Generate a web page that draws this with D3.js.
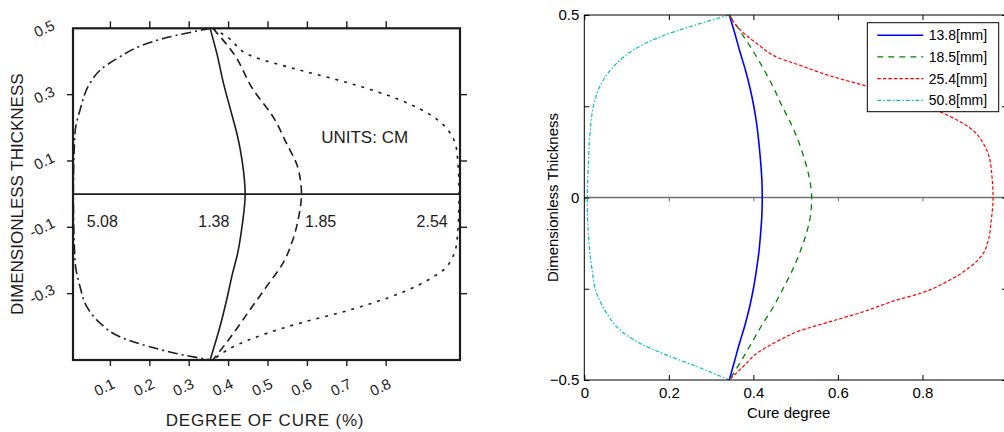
<!DOCTYPE html>
<html>
<head>
<meta charset="utf-8">
<script src="https://cdn.jsdelivr.net/npm/d3@7"></script>
<style>
  body { margin: 0; background: #fff; }
  svg { display: block; }
  text { font-family: Arial, "Liberation Sans", Helvetica, sans-serif; }
</style>
</head>
<body>
<div id="chart"></div>
<script>
// ---- data: left (scanned) figure, [cure, thickness] ----
var scan138 = [[0.353,0.5],[0.370,0.425],[0.387,0.334],[0.405,0.254],[0.423,0.173],[0.434,0.103],[0.442,0],
  [0.434,-0.098],[0.423,-0.178],[0.410,-0.239],[0.395,-0.319],[0.378,-0.40],[0.353,-0.5]];
var scan185 = [[0.36,0.5],[0.412,0.425],[0.463,0.314],[0.513,0.233],[0.547,0.153],[0.575,0.083],[0.585,0],
  [0.578,-0.068],[0.563,-0.138],[0.538,-0.208],[0.496,-0.279],[0.454,-0.349],[0.412,-0.42],[0.36,-0.5]];
var scan254 = [[0.36,0.5],[0.395,0.475],[0.463,0.414],[0.581,0.374],[0.708,0.334],[0.835,0.284],[0.92,0.233],
  [0.963,0.183],[0.98,0.123],[0.985,0],[0.98,-0.138],[0.954,-0.219],[0.92,-0.249],[0.835,-0.299],
  [0.708,-0.349],[0.581,-0.389],[0.496,-0.42],[0.412,-0.46],[0.36,-0.5]];
var scan508 = [[0.355,0.5],[0.243,0.472],[0.175,0.446],[0.124,0.414],[0.074,0.374],[0.048,0.334],[0.023,0.254],
  [0.01,0.183],[0.006,0],[0.01,-0.199],[0.023,-0.279],[0.040,-0.339],[0.074,-0.389],[0.124,-0.43],
  [0.2,-0.46],[0.285,-0.485],[0.355,-0.5]];
var scanLabels = ["5.08", "1.38", "1.85", "2.54"];
var scanLabelCure = [0.04, 0.323, 0.594, 0.877];
var scanXTicks = [0.1, 0.2, 0.3, 0.4, 0.5, 0.6, 0.7, 0.8];
var scanYTicks = [0.5, 0.3, 0.1, -0.1, -0.3];

// ---- data: right (MATLAB) figure ----
var mm138 = [[0.343,0.5],[0.356,0.45],[0.368,0.4],[0.381,0.35],[0.392,0.3],[0.401,0.25],[0.408,0.2],[0.413,0.15],
  [0.417,0.1],[0.420,0.05],[0.421,0],[0.420,-0.05],[0.417,-0.1],[0.413,-0.15],[0.407,-0.2],[0.400,-0.25],
  [0.391,-0.3],[0.380,-0.35],[0.367,-0.4],[0.355,-0.45],[0.343,-0.5]];
var mm185 = [[0.343,0.5],[0.372,0.45],[0.400,0.4],[0.425,0.35],[0.448,0.3],[0.468,0.25],[0.490,0.2],[0.508,0.15],
  [0.522,0.1],[0.533,0.05],[0.538,0],[0.535,-0.05],[0.525,-0.1],[0.510,-0.15],[0.492,-0.2],[0.470,-0.25],
  [0.447,-0.3],[0.420,-0.35],[0.395,-0.4],[0.370,-0.45],[0.343,-0.5]];
var mm254 = [[0.343,0.5],[0.362,0.468],[0.408,0.422],[0.463,0.381],[0.503,0.365],[0.582,0.333],[0.662,0.307],
  [0.760,0.272],[0.858,0.226],[0.913,0.19],[0.944,0.148],[0.958,0.11],[0.965,0.05],[0.967,0],[0.963,-0.06],
  [0.955,-0.12],[0.944,-0.153],[0.913,-0.19],[0.865,-0.226],[0.794,-0.263],[0.739,-0.281],[0.660,-0.313],
  [0.582,-0.34],[0.503,-0.368],[0.463,-0.39],[0.408,-0.427],[0.376,-0.463],[0.343,-0.5]];
var mm508 = [[0.343,0.5],[0.25,0.468],[0.179,0.44],[0.116,0.404],[0.077,0.368],[0.045,0.322],[0.025,0.267],
  [0.0135,0.176],[0.0095,0.084],[0.007,0],[0.0095,-0.098],[0.0175,-0.19],[0.029,-0.262],[0.053,-0.317],
  [0.0845,-0.363],[0.132,-0.4],[0.195,-0.432],[0.266,-0.463],[0.343,-0.5]];
var legendNames = ["13.8[mm]", "18.5[mm]", "25.4[mm]", "50.8[mm]"];
var rightXTicks = [0, 0.2, 0.4, 0.6, 0.8, 1];
var rightYTicks = [-0.5, -0.25, 0, 0.25, 0.5];
var rightYLabelled = [-0.5, 0, 0.5];

var svg = d3.select("#chart").append("svg")
  .attr("width", 1004)
  .attr("height", 432);

// ================= left panel =================
var ink = "#1c1c1c";
var xL = d3.scaleLinear().domain([0, 1]).range([71, 465]);
var yL = d3.scaleLinear().domain([-0.5, 0.5]).range([360, 28.3]);
var frameL = { left: 73, right: 460 };

var left = svg.append("g");

left.append("rect")
  .attr("x", frameL.left).attr("y", yL(0.5))
  .attr("width", frameL.right - frameL.left).attr("height", yL(-0.5) - yL(0.5))
  .attr("fill", "none").attr("stroke", ink).attr("stroke-width", 2.2);

left.append("line")
  .attr("x1", frameL.left).attr("x2", frameL.right)
  .attr("y1", yL(0)).attr("y2", yL(0))
  .attr("stroke", ink).attr("stroke-width", 1.6);

// outward ticks
left.selectAll(".ttop").data(scanXTicks).enter().append("line")
  .attr("x1", d => xL(d)).attr("x2", d => xL(d))
  .attr("y1", yL(0.5)).attr("y2", yL(0.5) - 7)
  .attr("stroke", ink).attr("stroke-width", 1.4);
left.selectAll(".tbot").data(scanXTicks).enter().append("line")
  .attr("x1", d => xL(d)).attr("x2", d => xL(d))
  .attr("y1", yL(-0.5)).attr("y2", yL(-0.5) + 6)
  .attr("stroke", ink).attr("stroke-width", 1.4);
left.selectAll(".tleft").data(scanYTicks.slice(1)).enter().append("line")
  .attr("x1", frameL.left).attr("x2", frameL.left - 6)
  .attr("y1", d => yL(d)).attr("y2", d => yL(d))
  .attr("stroke", ink).attr("stroke-width", 1.4);
left.selectAll(".tright").data(scanYTicks.slice(1)).enter().append("line")
  .attr("x1", frameL.right).attr("x2", frameL.right + 7)
  .attr("y1", d => yL(d)).attr("y2", d => yL(d))
  .attr("stroke", ink).attr("stroke-width", 1.4);

// rotated tick labels
left.selectAll(".xlab").data(scanXTicks).enter().append("text")
  .attr("transform", d => `translate(${xL(d) - 6},${yL(-0.5) + 27}) rotate(-25)`)
  .attr("text-anchor", "middle").attr("dominant-baseline", "central")
  .attr("font-size", "15px").attr("fill", ink)
  .text(d => d.toFixed(1));
left.selectAll(".ylab").data(scanYTicks).enter().append("text")
  .attr("transform", d => `translate(${d < 0 ? 42 : 44},${yL(d)}) rotate(-25)`)
  .attr("text-anchor", "middle").attr("dominant-baseline", "central")
  .attr("font-size", "15px").attr("fill", ink)
  .text(d => d.toFixed(1));

left.append("text")
  .attr("transform", `translate(17,${yL(0)}) rotate(-90)`)
  .attr("text-anchor", "middle").attr("dominant-baseline", "central")
  .attr("font-size", "17px").attr("fill", ink)
  .text("DIMENSIONLESS THICKNESS");
left.append("text")
  .attr("x", 265).attr("y", 420)
  .attr("text-anchor", "middle").attr("dominant-baseline", "central")
  .attr("font-size", "17px").attr("letter-spacing", "0.8px").attr("fill", ink)
  .text("DEGREE OF CURE (%)");
left.append("text")
  .attr("x", xL(0.635)).attr("y", yL(0.17))
  .attr("dominant-baseline", "central")
  .attr("font-size", "17px").attr("fill", ink)
  .text("UNITS: CM");

left.selectAll(".clab").data(scanLabels).enter().append("text")
  .attr("x", (d, i) => xL(scanLabelCure[i])).attr("y", yL(-0.081))
  .attr("dominant-baseline", "central")
  .attr("font-size", "16px").attr("fill", ink)
  .text(d => d);

var lineL = d3.line().x(d => xL(d[0])).y(d => yL(d[1])).curve(d3.curveMonotoneY);
var scanSeries = [
  { data: scan138, dash: null },
  { data: scan185, dash: "8,5" },
  { data: scan254, dash: "3,6" },
  { data: scan508, dash: "10,4,2,4" }
];
left.selectAll(".scurve").data(scanSeries).enter().append("path")
  .attr("d", d => lineL(d.data))
  .attr("fill", "none").attr("stroke", ink).attr("stroke-width", 1.6)
  .attr("stroke-dasharray", d => d.dash);

// ================= right panel =================
var xR = d3.scaleLinear().domain([0, 1]).range([584.3, 1007]);
var yR = d3.scaleLinear().domain([-0.5, 0.5]).range([380, 15]);
var right = svg.append("g");

// zero line with small ticks
right.append("line")
  .attr("x1", xR(0)).attr("x2", xR(1))
  .attr("y1", yR(0)).attr("y2", yR(0))
  .attr("stroke", "#707070").attr("stroke-width", 1.5);
right.append("g")
  .attr("transform", `translate(0,${yR(0)})`)
  .call(d3.axisBottom(xR).tickValues(rightXTicks).tickSize(4).tickFormat(""))
  .call(g => g.select(".domain").remove())
  .selectAll("line").attr("stroke", "#707070");

var lineR = d3.line().x(d => xR(d[0])).y(d => yR(d[1])).curve(d3.curveMonotoneY);
var rightSeries = [
  { data: mm138, color: "#0000ff", dash: null, w: 1.6 },
  { data: mm185, color: "#008000", dash: "6,5", w: 1.3 },
  { data: mm254, color: "#ff0000", dash: "3.5,2", w: 1.2 },
  { data: mm508, color: "#00bfbf", dash: "4,2,1.5,2", w: 1.2 }
];
right.selectAll(".rcurve").data(rightSeries).enter().append("path")
  .attr("d", d => lineR(d.data))
  .attr("fill", "none").attr("stroke", d => d.color).attr("stroke-width", d => d.w)
  .attr("stroke-dasharray", d => d.dash);

// axes (inward ticks) and box
function styleAxis(g) {
  g.select(".domain").remove();
  g.selectAll("line").attr("stroke", "#000");
  g.selectAll("text").attr("font-size", "15px").attr("fill", "#000")
    .attr("font-family", "Arial, 'Liberation Sans', sans-serif");
}
right.append("g").attr("transform", `translate(0,${yR(-0.5)})`)
  .call(d3.axisBottom(xR).tickValues(rightXTicks).tickSizeInner(-5).tickSizeOuter(0).tickPadding(7)
    .tickFormat(d3.format("")))
  .call(styleAxis);
right.append("g").attr("transform", `translate(0,${yR(0.5)})`)
  .call(d3.axisTop(xR).tickValues(rightXTicks).tickSizeInner(-5).tickSizeOuter(0).tickFormat(""))
  .call(styleAxis);
right.append("g").attr("transform", `translate(${xR(0)},0)`)
  .call(d3.axisLeft(yR).tickValues(rightYTicks).tickSizeInner(-5).tickSizeOuter(0).tickPadding(5)
    .tickFormat(d => rightYLabelled.indexOf(d) >= 0 ? (d < 0 ? "\u2212" + Math.abs(d) : String(d)) : ""))
  .call(styleAxis);
right.append("g").attr("transform", `translate(${xR(1)},0)`)
  .call(d3.axisRight(yR).tickValues(rightYTicks).tickSizeInner(-5).tickSizeOuter(0).tickFormat(""))
  .call(styleAxis);
right.append("rect")
  .attr("x", xR(0)).attr("y", yR(0.5))
  .attr("width", xR(1) - xR(0)).attr("height", yR(-0.5) - yR(0.5))
  .attr("fill", "none").attr("stroke", "#000").attr("stroke-width", 1);

right.append("text")
  .attr("x", (xR(0) + xR(1)) / 2 - 7).attr("y", 412)
  .attr("text-anchor", "middle").attr("dominant-baseline", "central")
  .attr("font-size", "15px").text("Cure degree");
right.append("text")
  .attr("transform", `translate(552,${yR(0)}) rotate(-90)`)
  .attr("text-anchor", "middle").attr("dominant-baseline", "central")
  .attr("font-size", "15px").text("Dimensionless Thickness");

// legend
var legend = right.append("g").attr("transform", "translate(867.3,22.7)");
legend.append("rect")
  .attr("width", 131.4).attr("height", 89)
  .attr("fill", "#fff").attr("stroke", "#000").attr("stroke-width", 1);
var items = legend.selectAll(".item").data(rightSeries).enter().append("g")
  .attr("transform", (d, i) => `translate(0,${12.5 + i * 21.7})`);
items.append("line")
  .attr("x1", 10).attr("x2", 56)
  .attr("stroke", d => d.color).attr("stroke-width", d => d.w)
  .attr("stroke-dasharray", d => d.dash);
items.append("text")
  .attr("x", 61.5).attr("dominant-baseline", "central")
  .attr("font-size", "14px")
  .text((d, i) => legendNames[i]);
</script>
</body>
</html>
